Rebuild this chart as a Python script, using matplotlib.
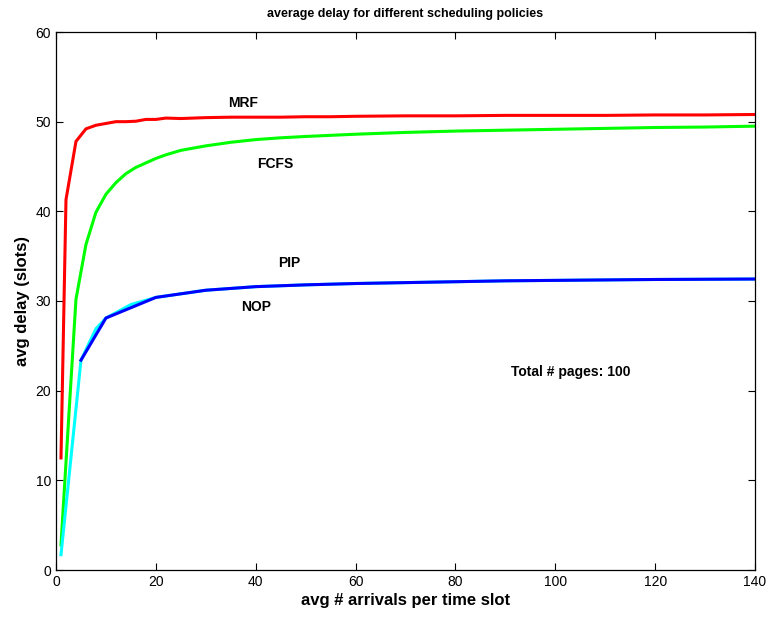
import matplotlib
matplotlib.use("Agg")
import matplotlib.pyplot as plt

plt.rcParams['font.family'] = ['Liberation Sans', 'DejaVu Sans']

mrf_x = [1, 2, 4, 6, 8, 10, 12, 14, 16, 18, 20, 22, 25, 30, 35, 40, 45, 50, 55, 60, 70, 80, 90, 100, 110, 120, 130, 140]
mrf_y = [12.5, 41.3, 47.8, 49.2, 49.6, 49.8, 50.0, 50.0, 50.05, 50.25, 50.25, 50.4, 50.35, 50.45, 50.5, 50.5, 50.5,
         50.55, 50.55, 50.6, 50.65, 50.65, 50.7, 50.7, 50.7, 50.75, 50.75, 50.8]

fcfs_x = [1, 2, 4, 6, 8, 10, 12, 14, 16, 18, 20, 22, 25, 30, 35, 40, 45, 50, 60, 70, 80, 90, 100, 110, 120, 130, 140]
fcfs_y = [2.8, 12.0, 30.2, 36.3, 39.9, 41.9, 43.2, 44.2, 44.9, 45.4, 45.9, 46.3, 46.8, 47.3, 47.7, 48.0, 48.2,
          48.35, 48.6, 48.8, 48.95, 49.05, 49.15, 49.25, 49.35, 49.4, 49.5]

nop_x = [1, 5, 8, 10, 15, 20, 30, 40, 50, 60, 70, 80, 90, 100, 120, 140]
nop_y = [1.7, 23.4, 26.9, 28.1, 29.6, 30.4, 31.2, 31.6, 31.8, 31.95, 32.05, 32.15, 32.25, 32.3, 32.4, 32.45]

pip_x = [5, 10, 20, 30, 40, 50, 60, 70, 80, 90, 100, 120, 140]
pip_y = [23.4, 28.1, 30.4, 31.2, 31.6, 31.8, 31.95, 32.05, 32.15, 32.25, 32.3, 32.4, 32.45]

x_ticks = [0, 20, 40, 60, 80, 100, 120, 140]
y_ticks = [0, 10, 20, 30, 40, 50, 60]

fig = plt.figure(figsize=(7.7, 6.19), dpi=100)
ax = fig.add_axes([56/770, 1-570/619, (755-56)/770, (570-32)/619])

ax.plot(mrf_x, mrf_y, color=(1, 0, 0), lw=2.2)
ax.plot(fcfs_x, fcfs_y, color=(0, 1, 0), lw=2.2)
ax.plot(nop_x, nop_y, color=(0, 1, 1), lw=2.2)
ax.plot(pip_x, pip_y, color=(0, 0, 1), lw=2.2)

ax.set_xlim(0, 140)
ax.set_ylim(0, 60)
ax.set_xticks(x_ticks)
ax.set_yticks(y_ticks)
ax.tick_params(direction='in', top=True, right=True, labelsize=10, length=5, width=0.8)
for s in ax.spines.values():
    s.set_linewidth(0.9)

ax.text(37.5, 52.1, 'MRF', fontsize=10, fontweight='bold', ha='center', va='center')
ax.text(44, 45.3, 'FCFS', fontsize=10, fontweight='bold', ha='center', va='center')
ax.text(46.8, 34.2, 'PIP', fontsize=10, fontweight='bold', ha='center', va='center')
ax.text(40, 29.3, 'NOP', fontsize=10, fontweight='bold', ha='center', va='center')
ax.text(103, 22.1, 'Total # pages: 100', fontsize=10, fontweight='bold', ha='center', va='center')

ax.set_title('average delay for different scheduling policies', fontsize=9, fontweight='bold', pad=11)
ax.set_xlabel('avg # arrivals per time slot', fontsize=12, fontweight='bold', labelpad=3)
ax.set_ylabel('avg delay (slots)', fontsize=12, fontweight='bold', labelpad=4)

fig.savefig('out.png', dpi=100)
